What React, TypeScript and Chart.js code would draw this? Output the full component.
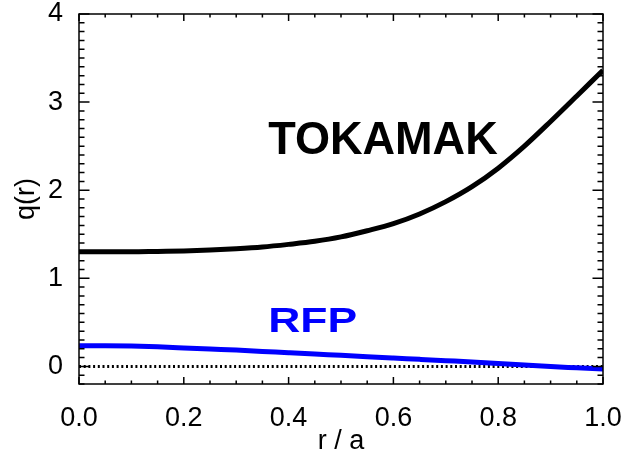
import React, { useEffect, useRef } from "react";
import { Chart, registerables } from "chart.js";

Chart.register(...registerables);

// Normalised minor radius r/a
const radius = [0, 0.05, 0.1, 0.15, 0.2, 0.25, 0.3, 0.35, 0.4, 0.45, 0.5, 0.55, 0.6, 0.65, 0.7, 0.75, 0.8, 0.85, 0.9, 0.95, 1.0];
// Safety factor profiles q(r)
const tokamakQ = [1.3, 1.3, 1.3, 1.305, 1.31, 1.32, 1.335, 1.355, 1.385, 1.42, 1.47, 1.54, 1.62, 1.73, 1.87, 2.04, 2.25, 2.5, 2.78, 3.07, 3.36];
const rfpQ = [0.235, 0.234, 0.23, 0.222, 0.21, 0.197, 0.185, 0.17, 0.155, 0.14, 0.125, 0.11, 0.095, 0.08, 0.065, 0.05, 0.033, 0.015, -0.002, -0.016, -0.03];
// Reference line q = 0 across the whole radius
const zeroLineR = [0, 1];
const zeroLineQ = [0, 0];

const X_MIN = 0;
const X_MAX = 1;
const Y_MIN = -0.2;
const Y_MAX = 4;
const X_MAJOR = 0.2;
const X_MINOR = 0.05;
const Y_MAJOR = 1;
const Y_MINOR = 0.1;

const FONT = "'Liberation Sans', Arial, Helvetica, sans-serif";

// Curve names, anchored in data coordinates (left edge, baseline)
const curveLabels = [
  { text: "TOKAMAK", r: 0.361, q: 2.41, color: "#000000", size: 46, stretch: 0.98 },
  { text: "RFP", r: 0.361, q: 0.395, color: "#0000ff", size: 35, stretch: 1.27 },
];

const toPoints = (xs: number[], ys: number[]) => xs.map((x, i) => ({ x, y: ys[i] }));

// Closed frame with inward major/minor ticks on all four sides
const framePlugin = {
  id: "frameTicks",
  afterDatasetsDraw(chart: any) {
    const { ctx, chartArea, scales } = chart;
    const { left, right, top, bottom } = chartArea;
    const xs = scales.x;
    const ys = scales.y;
    ctx.save();
    ctx.strokeStyle = "#000";
    ctx.lineWidth = 1.5;
    ctx.strokeRect(left, top, right - left, bottom - top);
    ctx.beginPath();
    const nx = Math.round((X_MAX - X_MIN) / X_MINOR);
    const perMajorX = Math.round(X_MAJOR / X_MINOR);
    for (let i = 0; i <= nx; i++) {
      const px = xs.getPixelForValue(X_MIN + i * X_MINOR);
      const len = i % perMajorX === 0 ? 7 : 3.5;
      ctx.moveTo(px, bottom);
      ctx.lineTo(px, bottom - len);
      ctx.moveTo(px, top);
      ctx.lineTo(px, top + len);
    }
    const iStart = Math.round(Y_MIN / Y_MINOR);
    const iEnd = Math.round(Y_MAX / Y_MINOR);
    const perMajorY = Math.round(Y_MAJOR / Y_MINOR);
    for (let i = iStart; i <= iEnd; i++) {
      const py = ys.getPixelForValue(i * Y_MINOR);
      const len = i % perMajorY === 0 ? 10.5 : 5.5;
      ctx.moveTo(left, py);
      ctx.lineTo(left + len, py);
      ctx.moveTo(right, py);
      ctx.lineTo(right - len, py);
    }
    ctx.stroke();
    ctx.restore();
  },
};

const labelPlugin = {
  id: "curveLabels",
  afterDatasetsDraw(chart: any) {
    const { ctx, scales } = chart;
    ctx.save();
    for (const lab of curveLabels) {
      const px = scales.x.getPixelForValue(lab.r);
      const py = scales.y.getPixelForValue(lab.q);
      ctx.save();
      ctx.translate(px, py);
      ctx.scale(lab.stretch, 1);
      ctx.font = `bold ${lab.size}px ${FONT}`;
      ctx.fillStyle = lab.color;
      ctx.textAlign = "left";
      ctx.textBaseline = "alphabetic";
      ctx.fillText(lab.text, 0, 0);
      ctx.restore();
    }
    ctx.restore();
  },
};

export default function App() {
  const canvasRef = useRef<HTMLCanvasElement | null>(null);

  useEffect(() => {
    if (!canvasRef.current) return;
    const chart = new Chart(canvasRef.current, {
      type: "line",
      data: {
        datasets: [
          {
            label: "zero",
            data: toPoints(zeroLineR, zeroLineQ),
            borderColor: "#000000",
            borderWidth: 3,
            borderDash: [2, 2.7],
            pointRadius: 0,
            fill: false,
            order: 3,
          },
          {
            label: "TOKAMAK",
            data: toPoints(radius, tokamakQ),
            borderColor: "#000000",
            borderWidth: 5,
            pointRadius: 0,
            cubicInterpolationMode: "monotone",
            fill: false,
            order: 2,
          },
          {
            label: "RFP",
            data: toPoints(radius, rfpQ),
            borderColor: "#0000ff",
            borderWidth: 5,
            pointRadius: 0,
            cubicInterpolationMode: "monotone",
            fill: false,
            order: 1,
          },
        ],
      },
      options: {
        animation: false,
        responsive: true,
        maintainAspectRatio: false,
        layout: { padding: { top: 14, right: 22, left: 0, bottom: 0 } },
        plugins: { legend: { display: false }, tooltip: { enabled: false } },
        scales: {
          x: {
            type: "linear",
            min: X_MIN,
            max: X_MAX,
            grid: { display: false },
            border: { display: false },
            ticks: {
              stepSize: X_MAJOR,
              includeBounds: false,
              autoSkip: false,
              maxRotation: 0,
              padding: 13,
              color: "#000",
              font: { family: FONT, size: 27, lineHeight: 1 },
              callback: (v: any) => Number(v).toFixed(1),
            },
            title: {
              display: true,
              text: "r / a",
              color: "#000",
              padding: 0,
              font: { family: FONT, size: 27, lineHeight: 1 },
            },
            afterFit: (s: any) => {
              s.height = 71;
              s.paddingLeft = 0;
              s.paddingRight = 0;
            },
          },
          y: {
            type: "linear",
            min: Y_MIN,
            max: Y_MAX,
            grid: { display: false },
            border: { display: false },
            ticks: {
              stepSize: Y_MAJOR,
              includeBounds: false,
              autoSkip: false,
              padding: 8,
              color: "#000",
              font: { family: FONT, size: 27, lineHeight: 1 },
              callback: (v: any) => String(Math.round(Number(v))),
            },
            title: {
              display: true,
              text: "q(r)",
              color: "#000",
              padding: { top: 13, bottom: 0 },
              font: { family: FONT, size: 27, lineHeight: 1 },
            },
            afterFit: (s: any) => {
              s.width = 79;
              s.paddingTop = 0;
              s.paddingBottom = 0;
            },
          },
        },
      },
      plugins: [framePlugin, labelPlugin],
    } as any);
    return () => chart.destroy();
  }, []);

  return (
    <div style={{ position: "fixed", left: 0, top: 0, width: 625, height: 455, background: "#ffffff" }}>
      <canvas ref={canvasRef} />
    </div>
  );
}
